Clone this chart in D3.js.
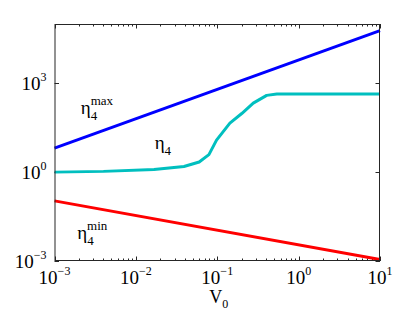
<!DOCTYPE html>
<html>
<head>
<meta charset="utf-8">
<script src="https://cdn.jsdelivr.net/npm/d3@7"></script>
<style>
  body { margin: 0; background: #fff; }
  text { font-family: "Liberation Serif", "DejaVu Serif", serif; fill: #000; }
</style>
</head>
<body>
<div id="chart"></div>
<script>
// values
const vLine = [0.001, 10];
const etaMax = [6.5, 60000];
const etaMin = [0.107, 0.00112];

const vCurve = [0.001, 0.004, 0.0167, 0.039, 0.06, 0.079, 0.098, 0.143, 0.2, 0.277, 0.405, 0.54, 10];
const etaCurve = [1.0, 1.06, 1.23, 1.55, 2.2, 3.9, 12, 45, 95, 214, 390, 432, 432];

const xTicks = [-3, -2, -1, 0, 1];
const yTicks = [-3, 0, 3];

const width = 420, height = 316;
const margin = { top: 24, right: 40, bottom: 55, left: 54.5 };

const svg = d3.select("#chart").append("svg")
    .attr("width", width)
    .attr("height", height);

const x = d3.scaleLog()
    .domain([1e-3, 1e1])
    .range([margin.left, width - margin.right]);

const y = d3.scaleLog()
    .domain([1e-3, 1e5])
    .range([height - margin.bottom, margin.top]);

const x0 = x.range()[0], x1 = x.range()[1];
const y0 = y.range()[0], y1 = y.range()[1];

// minor ticks on x (2..9 in each decade)
let minor = [];
for (let e = -3; e < 1; e++) {
    for (let m = 2; m < 10; m++) minor.push(m * Math.pow(10, e));
}

const axisColor = "#262626";
const ticks = svg.append("g").attr("stroke", axisColor).attr("stroke-width", 1);

minor.forEach(v => {
    let px = Math.round(x(v)) + 0.5;
    ticks.append("line").attr("x1", px).attr("x2", px).attr("y1", y0).attr("y2", y0 - 2.5);
    ticks.append("line").attr("x1", px).attr("x2", px).attr("y1", y1).attr("y2", y1 + 2.5);
});
xTicks.forEach(e => {
    let px = Math.round(x(Math.pow(10, e))) + 0.5;
    ticks.append("line").attr("x1", px).attr("x2", px).attr("y1", y0).attr("y2", y0 - 4.5);
    ticks.append("line").attr("x1", px).attr("x2", px).attr("y1", y1).attr("y2", y1 + 4.5);
});
yTicks.forEach(e => {
    let py = Math.round(y(Math.pow(10, e))) + 0.5;
    ticks.append("line").attr("x1", x0).attr("x2", x0 + 4.5).attr("y1", py).attr("y2", py);
    ticks.append("line").attr("x1", x1).attr("x2", x1 - 4.5).attr("y1", py).attr("y2", py);
});

// data lines
const line = d3.line()
    .x(d => x(d[0]))
    .y(d => y(d[1]));

svg.append("path")
    .datum(d3.zip(vLine, etaMax))
    .attr("fill", "none")
    .attr("stroke", "#0000ff")
    .attr("stroke-width", 3)
    .attr("d", line);

svg.append("path")
    .datum(d3.zip(vCurve, etaCurve))
    .attr("fill", "none")
    .attr("stroke", "#00bfbf")
    .attr("stroke-width", 3)
    .attr("stroke-linejoin", "round")
    .attr("d", line);

svg.append("path")
    .datum(d3.zip(vLine, etaMin))
    .attr("fill", "none")
    .attr("stroke", "#ff0000")
    .attr("stroke-width", 3)
    .attr("d", line);

// box
svg.append("rect")
    .attr("x", x0 + 0.5)
    .attr("y", y1 + 0.5)
    .attr("width", x1 - x0 - 1)
    .attr("height", y0 - y1 - 1)
    .attr("fill", "none")
    .attr("stroke", axisColor)
    .attr("stroke-width", 1);

// tick labels
xTicks.forEach(e => {
    let t = svg.append("text")
        .attr("x", x(Math.pow(10, e)))
        .attr("y", y0 + 23)
        .attr("text-anchor", "middle")
        .style("font-size", "19px");
    t.append("tspan").text("10");
    t.append("tspan").attr("dy", -9).style("font-size", "12px").text(e < 0 ? "\u2212" + (-e) : e);
});

yTicks.forEach(e => {
    let t = svg.append("text")
        .attr("x", x0 - 8)
        .attr("y", y(Math.pow(10, e)) + 7)
        .attr("text-anchor", "end")
        .style("font-size", "19px");
    t.append("tspan").text("10");
    t.append("tspan").attr("dy", -9).style("font-size", "12px").text(e < 0 ? "\u2212" + (-e) : e);
});

// x axis label
let xl = svg.append("text")
    .attr("x", x(0.1) - 8)
    .attr("y", y0 + 42)
    .style("font-size", "18px");
xl.append("tspan").text("V");
xl.append("tspan").attr("dy", 5).style("font-size", "12px").text("0");

// curve labels
function etaLabel(px, py, sup) {
    let t = svg.append("text")
        .attr("x", px)
        .attr("y", py)
        .style("font-size", "19px");
    t.append("tspan").text("\u03B7");
    if (sup) {
        t.append("tspan").attr("dy", -9).style("font-size", "13px").text(sup);
        t.append("tspan").attr("x", px + 10).attr("dy", 15).style("font-size", "13px").text("4");
    } else {
        t.append("tspan").attr("dy", 6).style("font-size", "13px").text("4");
    }
}

etaLabel(x(0.0021), y(90), "max");
etaLabel(x(0.017), y(6), null);
etaLabel(x(0.0019), y(0.0057), "min");
</script>
</body>
</html>
